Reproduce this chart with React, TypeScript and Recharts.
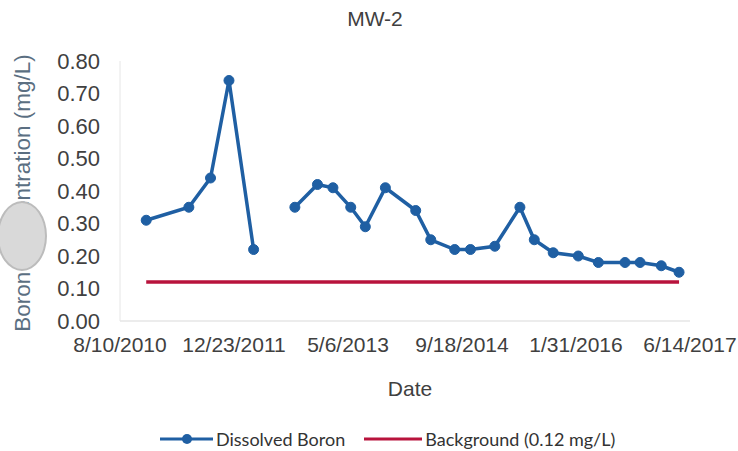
import React from 'react';
import { LineChart, Line, XAxis, YAxis, Legend } from 'recharts';

// ---- data ----
const SEG1_DATES = ['2010-12-03', '2011-06-08', '2011-09-11', '2011-12-01', '2012-03-18'];
const SEG1_BORON = [0.31, 0.35, 0.44, 0.74, 0.22];

const SEG2_DATES = [
  '2012-09-15', '2012-12-23', '2013-03-01', '2013-05-18', '2013-07-21', '2013-10-17',
  '2014-02-27', '2014-05-04', '2014-08-17', '2014-10-25', '2015-02-09', '2015-05-30',
  '2015-08-01', '2015-10-23', '2016-02-10', '2016-05-08', '2016-09-02', '2016-11-07',
  '2017-02-08', '2017-04-27',
];
const SEG2_BORON = [
  0.35, 0.42, 0.41, 0.35, 0.29, 0.41,
  0.34, 0.25, 0.22, 0.22, 0.23, 0.35,
  0.25, 0.21, 0.20, 0.18, 0.18, 0.18,
  0.17, 0.15,
];

const BACKGROUND_VALUE = 0.12;
const BACKGROUND_DATES = ['2010-12-03', '2017-04-27'];

const X_TICK_DATES = ['2010-08-10', '2011-12-23', '2013-05-06', '2014-09-18', '2016-01-31', '2017-06-14'];
const Y_TICKS = [0, 0.1, 0.2, 0.3, 0.4, 0.5, 0.6, 0.7, 0.8];

// ---- helpers ----
const toT = (s: string) => {
  const [y, m, d] = s.split('-').map(Number);
  return Date.UTC(y, m - 1, d);
};
const fmtDate = (t: number) => {
  const d = new Date(t);
  return `${d.getUTCMonth() + 1}/${d.getUTCDate()}/${d.getUTCFullYear()}`;
};

const seg1 = SEG1_DATES.map((s, i) => ({ t: toT(s), boron: SEG1_BORON[i] }));
const seg2 = SEG2_DATES.map((s, i) => ({ t: toT(s), boron: SEG2_BORON[i] }));
const bg = BACKGROUND_DATES.map((s) => ({ t: toT(s), bg: BACKGROUND_VALUE }));
const xTicks = X_TICK_DATES.map(toT);

const W = 738;
const H = 451;
const BLUE = '#1f5fa3';
const RED = '#b8133c';
const TXT = '#404040';
const FONT = '"Liberation Sans", Arial, sans-serif';

const renderLegend = () => (
  <div
    style={{
      height: 50,
      boxSizing: 'border-box',
      paddingTop: 26,
      paddingLeft: 160,
      display: 'flex',
      alignItems: 'center',
      fontFamily: 'Lato, "Open Sans", sans-serif',
      fontSize: 18,
      color: '#333',
      lineHeight: '24px',
    }}
  >
    <svg width={53} height={24} style={{ display: 'block' }}>
      <line x1={0} y1={12} x2={53} y2={12} stroke={BLUE} strokeWidth={3} />
      <circle cx={27} cy={12} r={5} fill={BLUE} />
    </svg>
    <span style={{ marginLeft: 3 }}>Dissolved Boron</span>
    <svg width={58} height={24} style={{ display: 'block', marginLeft: 19 }}>
      <line x1={0} y1={12} x2={58} y2={12} stroke={RED} strokeWidth={3} />
    </svg>
    <span style={{ marginLeft: 3 }}>Background (0.12 mg/L)</span>
  </div>
);

export default function App() {
  return (
    <div style={{ position: 'relative', width: W, height: H, background: '#fff', fontFamily: FONT }}>
      <style>{'body{margin:0;}'}</style>
      <LineChart width={W} height={H} margin={{ top: 61, right: 48, bottom: 0, left: 0 }}>
        <XAxis
          dataKey="t"
          type="number"
          domain={[xTicks[0], xTicks[xTicks.length - 1]]}
          ticks={xTicks}
          interval={0}
          tickFormatter={fmtDate}
          height={80}
          axisLine={{ stroke: '#d9d9d9' }}
          tickLine={false}
          tickSize={0}
          tickMargin={16}
          tick={{ fill: TXT, fontSize: 21, fontFamily: FONT }}
          allowDataOverflow
          label={{
            value: 'Date',
            position: 'insideBottom',
            offset: 5,
            dx: 5,
            style: { fill: TXT, fontSize: 21, fontFamily: FONT },
          }}
        />
        <YAxis
          type="number"
          domain={[0, 0.8]}
          ticks={Y_TICKS}
          interval={0}
          tickFormatter={(v: number) => v.toFixed(2)}
          width={120}
          axisLine={{ stroke: '#e6e6e6' }}
          tickLine={false}
          tickSize={0}
          tickMargin={20}
          tick={{ fill: TXT, fontSize: 22, fontFamily: FONT }}
          label={{
            value: 'Boron Concentration  (mg/L)',
            angle: -90,
            position: 'insideLeft',
            offset: 22,
            dy: 2,
            style: { textAnchor: 'middle', fill: '#5b6f82', fontSize: 22.5, fontFamily: FONT },
          }}
        />
        <Legend verticalAlign="bottom" height={50} content={renderLegend} wrapperStyle={{ left: 0, width: W }} />
        <Line
          data={bg}
          dataKey="bg"
          name="Background (0.12 mg/L)"
          stroke={RED}
          strokeWidth={3.5}
          dot={false}
          activeDot={false}
          isAnimationActive={false}
        />
        <Line
          data={seg1}
          dataKey="boron"
          name="Dissolved Boron"
          stroke={BLUE}
          strokeWidth={3.5}
          dot={{ r: 5, fill: BLUE, stroke: BLUE, strokeWidth: 1 }}
          activeDot={false}
          isAnimationActive={false}
        />
        <Line
          data={seg2}
          dataKey="boron"
          name="Dissolved Boron (cont.)"
          legendType="none"
          stroke={BLUE}
          strokeWidth={3.5}
          dot={{ r: 5, fill: BLUE, stroke: BLUE, strokeWidth: 1 }}
          activeDot={false}
          isAnimationActive={false}
        />
      </LineChart>
      <div
        style={{
          position: 'absolute',
          left: 0,
          top: 6,
          width: W,
          textAlign: 'center',
          transform: 'translateX(6px)',
          fontSize: 21,
          lineHeight: '26px',
          color: TXT,
          fontFamily: FONT,
        }}
      >
        MW-2
      </div>
      <div
        style={{
          position: 'absolute',
          left: -3,
          top: 201,
          width: 50,
          height: 70,
          borderRadius: '50%',
          background: '#d9d9d9',
          border: '2px solid #bcbcbc',
          boxSizing: 'border-box',
        }}
      />
    </div>
  );
}
